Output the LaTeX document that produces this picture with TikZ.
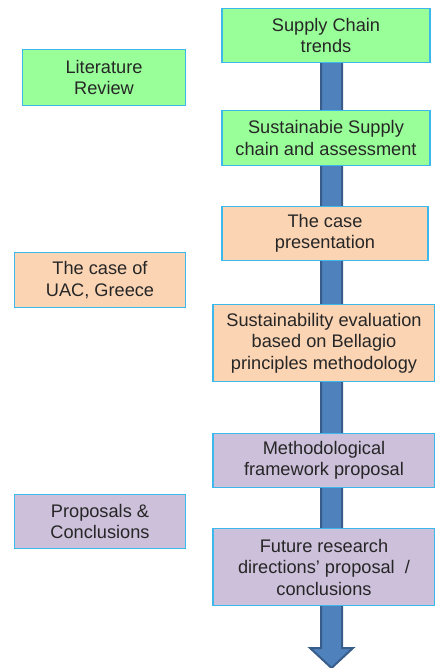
\documentclass[tikz,border=0pt]{standalone}
\usepackage{fontspec}
\setmainfont{Liberation Sans}
\definecolor{boxline}{HTML}{3DB8EA}
\definecolor{greenbox}{HTML}{99FF99}
\definecolor{peachbox}{HTML}{FBD4B4}
\definecolor{lilacbox}{HTML}{CCC0DA}
\definecolor{arrowfill}{HTML}{4F81BD}
\definecolor{arrowline}{HTML}{385D8A}
\tikzset{
    stage/.style={draw=boxline, line width=1.3pt, align=center, inner sep=2pt,
        text=black!85, font=\fontsize{18.2}{21.5}\selectfont},
    green/.style={stage, fill=greenbox},
    peach/.style={stage, fill=peachbox},
    lilac/.style={stage, fill=lilacbox},
}
\begin{document}
\begin{tikzpicture}[x=1pt, y=-1pt]
        \useasboundingbox (0, 0) rectangle (435, 668);
        % big arrow behind the steps
        \filldraw[draw=arrowline, fill=arrowfill, line width=2pt]
            (321, 40) -- (342, 40) -- (342, 648) -- (353, 648) -- (331.5, 668)
            -- (310, 648) -- (321, 648) -- cycle;
        % steps on the right
        \node[green, minimum width=208pt, minimum height=54pt] (trends) at (326, 35.5) {Supply Chain\\trends};
        \node[green, minimum width=208pt, minimum height=55pt] (sustain) at (326, 138) {Sustainabie Supply\\chain and assessment};
        \node[peach, minimum width=206pt, minimum height=54pt] (casepres) at (325, 233.5) {The case\\presentation};
        \node[peach, minimum width=222pt, minimum height=77pt] (bellagio) at (324, 343) {Sustainability evaluation\\based on Bellagio\\principles methodology};
        \node[lilac, minimum width=222pt, minimum height=54pt] (method) at (324, 460.5) {Methodological\\framework proposal};
        \node[lilac, minimum width=222pt, minimum height=77pt] (future) at (324, 567) {Future research\\directions' proposal~~/\\conclusions};
        % parts on the left
        \node[green, minimum width=163pt, minimum height=56pt] (litrev) at (104, 77.5) {Literature\\Review};
        \node[peach, minimum width=171pt, minimum height=55pt] (uac) at (100, 280) {The case of\\UAC, Greece};
        \node[lilac, minimum width=171pt, minimum height=54pt] (proposals) at (100, 521.5) {Proposals \&\\Conclusions};
    \end{tikzpicture}
\end{document}
